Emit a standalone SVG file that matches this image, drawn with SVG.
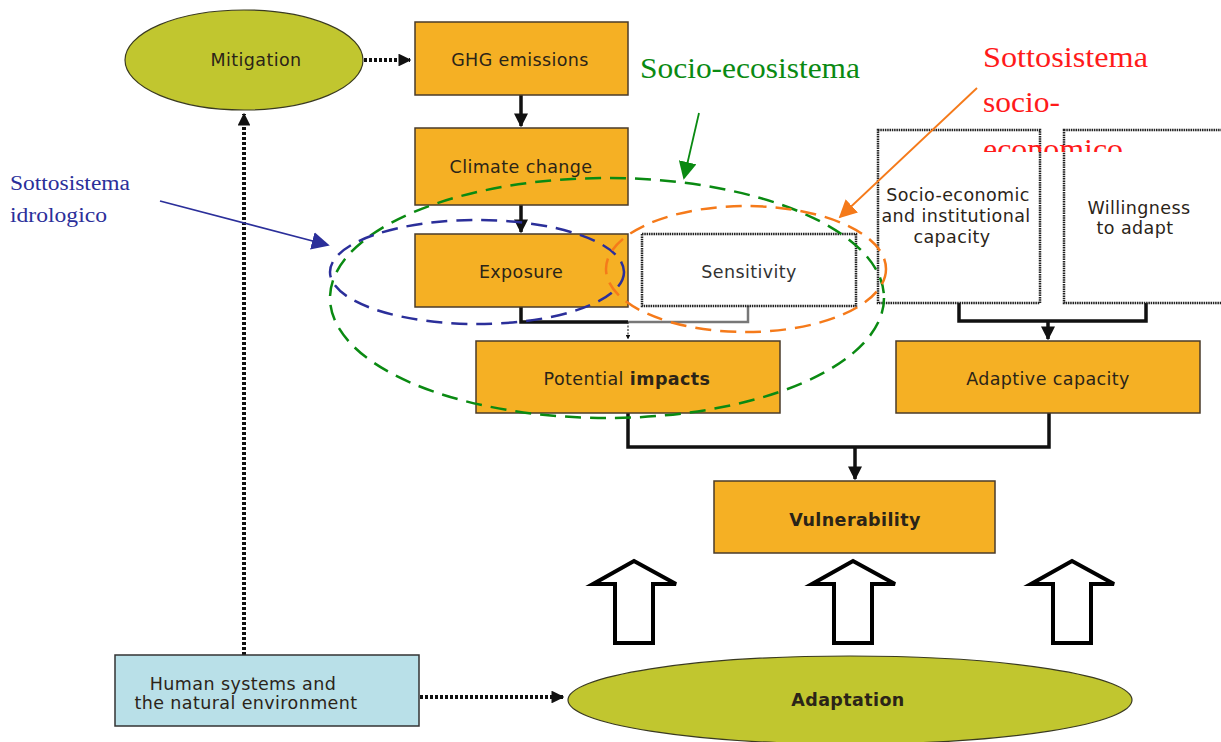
<svg xmlns="http://www.w3.org/2000/svg" width="1221" height="742" viewBox="0 0 1221 742">
<defs>
<style>
.box{fill:#f5b024;stroke:#4a3b2a;stroke-width:1.5}
.wbox{fill:#fff;stroke:#222;stroke-width:2.5;stroke-dasharray:1.5 0.8}
.ell{fill:#c1c62f;stroke:#3a3a20;stroke-width:1.2}
.t{font-family:"DejaVu Sans",Verdana,sans-serif;font-size:17.5px;letter-spacing:0.4px;fill:#2b2418;text-anchor:middle}
.b{font-weight:bold}
.ser{font-family:"Liberation Serif","DejaVu Serif",serif}
.solid{fill:none;stroke:#111;stroke-width:3.5}
.dot{fill:none;stroke:#111;stroke-width:4;stroke-dasharray:3 2}
.hollow{fill:#fff;stroke:#000;stroke-width:4;stroke-linejoin:miter}
</style>
<marker id="ah" viewBox="0 0 10 10" refX="9" refY="5" markerWidth="4" markerHeight="4" orient="auto" markerUnits="strokeWidth"><path d="M0,0L10,5L0,10z" fill="#111"/></marker>
<marker id="ahs" viewBox="0 0 10 10" refX="9" refY="5" markerWidth="3.2" markerHeight="3.2" orient="auto" markerUnits="strokeWidth"><path d="M0,0L10,5L0,10z" fill="#111"/></marker>
<marker id="ag" viewBox="0 0 10 10" refX="9" refY="5" markerWidth="10" markerHeight="10" orient="auto" markerUnits="strokeWidth"><path d="M0,0L10,5L0,10z" fill="#0a8a12"/></marker>
<marker id="ao" viewBox="0 0 10 10" refX="9" refY="5" markerWidth="10" markerHeight="10" orient="auto" markerUnits="strokeWidth"><path d="M0,0L10,5L0,10z" fill="#f57a1a"/></marker>
<marker id="ab" viewBox="0 0 10 10" refX="9" refY="5" markerWidth="10" markerHeight="10" orient="auto" markerUnits="strokeWidth"><path d="M0,0L10,5L0,10z" fill="#2b2f9a"/></marker>
<clipPath id="clipEco"><rect x="900" y="120" width="300" height="32"/></clipPath>
</defs>
<rect width="1221" height="742" fill="#fff"/>

<g id="connectors">
<path class="dot" d="M364,60H410" marker-end="url(#ahs)"/>
<path class="dot" d="M244,655V114" marker-end="url(#ahs)"/>
<path class="dot" d="M420,697H563" marker-end="url(#ahs)"/>
<path class="solid" d="M521,95V126" marker-end="url(#ah)"/>
<path class="solid" d="M521,205V232" marker-end="url(#ah)"/>
<path class="solid" d="M521,307V322H628"/>
<path d="M748,306V322H628" fill="none" stroke="#777" stroke-width="2.5"/>
<path d="M628,322V339" fill="none" stroke="#333" stroke-width="1.2" stroke-dasharray="2 1.5" marker-end="url(#ah)"/>
<path class="solid" d="M959,303V321H1146V303"/>
<path class="solid" d="M1048,321V339" marker-end="url(#ah)"/>
<path class="solid" d="M628,413V447H1049V413"/>
<path class="solid" d="M855,447V479" marker-end="url(#ah)"/>
</g>

<g id="hollow-arrows">
<path class="hollow" d="M634,561L676,584H653V643H615V584H593Z"/>
<path class="hollow" d="M853,561L895,584H872V643H834V584H812Z"/>
<path class="hollow" d="M1072,561L1114,584H1091V643H1053V584H1031Z"/>
</g>

<g id="mitigation"><ellipse class="ell" cx="244" cy="60" rx="119" ry="50"/><text class="t" x="256" y="66">Mitigation</text></g>
<g id="ghg"><rect class="box" x="415" y="22" width="213" height="73"/><text class="t" x="520" y="66">GHG emissions</text></g>
<g id="climate"><rect class="box" x="415" y="128" width="213" height="77"/><text class="t" x="521" y="173">Climate change</text></g>
<g id="exposure"><rect class="box" x="415" y="234" width="213" height="73"/><text class="t" x="521" y="278">Exposure</text></g>
<g id="sensitivity"><rect class="wbox" x="642" y="234" width="214" height="72"/><text class="t" x="749" y="278" style="fill:#333">Sensitivity</text></g>

<g id="socio-economic"><rect class="wbox" x="878" y="130" width="162" height="173"/>
<text class="t" x="958" y="201">Socio-economic</text><text class="t" x="956" y="222">and institutional</text><text class="t" x="952" y="243">capacity</text></g>
<g id="willingness"><rect class="wbox" x="1064" y="130" width="160" height="173"/>
<text class="t" x="1139" y="214">Willingness</text><text class="t" x="1135" y="234">to adapt</text></g>
<g id="impacts"><rect class="box" x="476" y="341" width="304" height="72"/><text class="t" x="627" y="385">Potential <tspan class="b">impacts</tspan></text></g>
<g id="adaptive"><rect class="box" x="896" y="341" width="304" height="72"/><text class="t" x="1048" y="385">Adaptive capacity</text></g>
<g id="vulnerability"><rect class="box" x="714" y="481" width="281" height="72"/><text class="t b" x="855" y="526">Vulnerability</text></g>
<g id="human"><rect x="115" y="655" width="304" height="71" fill="#b9e0e8" stroke="#333" stroke-width="1.5"/>
<text class="t" x="243" y="690">Human systems and</text><text class="t" x="246" y="709">the natural environment</text></g>
<g id="adaptation"><ellipse class="ell" cx="850" cy="700" rx="282" ry="44"/><text class="t b" x="848" y="706">Adaptation</text></g>

<g id="overlays">
<ellipse cx="607" cy="298" rx="277" ry="120" fill="none" stroke="#0a8a12" stroke-width="2.5" stroke-dasharray="16 9"/>
<ellipse cx="477" cy="272" rx="147" ry="52" fill="none" stroke="#2b2f9a" stroke-width="2.5" stroke-dasharray="16 9"/>
<ellipse cx="746" cy="269" rx="140" ry="63" fill="none" stroke="#f57a1a" stroke-width="2.5" stroke-dasharray="16 9"/>
<path d="M699,113L684,178" stroke="#0a8a12" stroke-width="1.8" fill="none" marker-end="url(#ag)"/>
<path d="M977,88L840,217" stroke="#f57a1a" stroke-width="1.8" fill="none" marker-end="url(#ao)"/>
<path d="M160,201L328,245" stroke="#2b2f9a" stroke-width="1.8" fill="none" marker-end="url(#ab)"/>
<text class="ser" x="640" y="78" font-size="30" textLength="220" lengthAdjust="spacingAndGlyphs" fill="#0a8a12">Socio-ecosistema</text>
<text class="ser" x="983" y="67" font-size="29" textLength="165" lengthAdjust="spacingAndGlyphs" fill="#ff1a1a">Sottosistema</text>
<text class="ser" x="983" y="112" font-size="29" textLength="77" lengthAdjust="spacingAndGlyphs" fill="#ff1a1a">socio-</text>
<text class="ser" x="983" y="159" font-size="29" textLength="140" lengthAdjust="spacingAndGlyphs" fill="#ff1a1a" clip-path="url(#clipEco)">economico</text>
<text class="ser" x="10" y="190" font-size="20" textLength="120" lengthAdjust="spacingAndGlyphs" fill="#2b2f9a">Sottosistema</text>
<text class="ser" x="10" y="222" font-size="20" textLength="97" lengthAdjust="spacingAndGlyphs" fill="#2b2f9a">idrologico</text>
</g>
</svg>
